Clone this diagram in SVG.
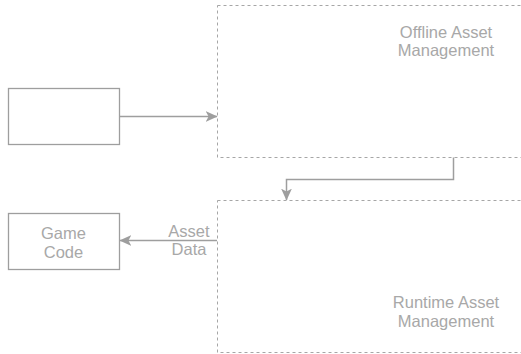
<svg xmlns="http://www.w3.org/2000/svg" width="521" height="354" viewBox="0 0 521 354">
<defs>
<style>
.box{fill:#fff;stroke:#9e9e9e;stroke-width:1.3}
.grp{fill:none;stroke:#a6a6a6;stroke-width:1;stroke-dasharray:3 3}
.lbl{font-family:"Liberation Sans",Arial,sans-serif;font-size:16.5px;fill:#a8a8a8}
.edge{fill:none;stroke:#9e9e9e;stroke-width:1.5}
</style>
<marker id="ah" viewBox="0 0 10 10" refX="9.5" refY="5" markerWidth="12" markerHeight="12" markerUnits="userSpaceOnUse" orient="auto">
<path d="M0,0.5 L10,5 L0,9.5 L2.5,5 Z" fill="#9e9e9e"/>
</marker>
</defs>
<g id="offline">
<rect class="grp" x="217.5" y="5.5" width="320" height="152"/>
<text class="lbl" x="446" y="38" text-anchor="middle">Offline Asset</text>
<text class="lbl" x="446" y="56" text-anchor="middle">Management</text>
</g>
<g id="runtime">
<rect class="grp" x="217.5" y="200.5" width="320" height="152"/>
<text class="lbl" x="446" y="307.5" text-anchor="middle">Runtime Asset</text>
<text class="lbl" x="446" y="326.5" text-anchor="middle">Management</text>
</g>
<g id="source">
<rect class="box" x="8.5" y="88.5" width="111" height="56"/>
</g>
<g id="gamecode">
<rect class="box" x="8.5" y="213.5" width="111" height="56"/>
<text class="lbl" x="63.5" y="238.5" text-anchor="middle">Game</text>
<text class="lbl" x="63.5" y="257.5" text-anchor="middle">Code</text>
</g>
<g id="connectors">
<path class="edge" d="M119.5,116.5 L217,116.5" marker-end="url(#ah)"/>
<path class="edge" d="M453.5,157.5 L453.5,179.5 L286.5,179.5 L286.5,200" marker-end="url(#ah)"/>
<path class="edge" d="M217,240.5 L120,240.5" marker-end="url(#ah)"/>
<text class="lbl" x="189" y="236.5" text-anchor="middle">Asset</text>
<text class="lbl" x="189" y="254.5" text-anchor="middle">Data</text>
</g>
</svg>
